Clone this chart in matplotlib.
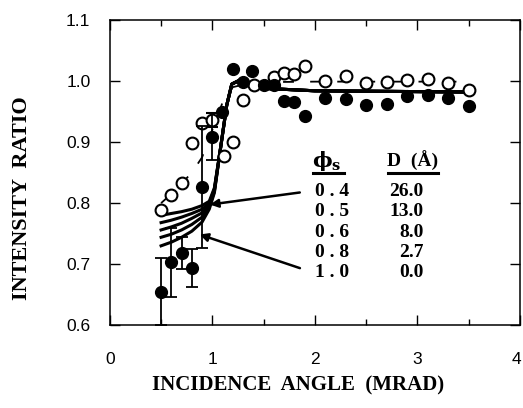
import matplotlib.pyplot as plt
from matplotlib.ticker import MultipleLocator

# filled circles
x_filled = [0.5, 0.6, 0.7, 0.8, 0.9, 1.0, 1.09, 1.2, 1.3, 1.39, 1.5, 1.6, 1.7, 1.8, 1.9,
            2.1, 2.3, 2.5, 2.7, 2.9, 3.1, 3.3, 3.5]
y_filled = [0.655, 0.703, 0.718, 0.693, 0.827, 0.909, 0.95, 1.02, 0.999, 1.017, 0.993, 0.993,
            0.967, 0.965, 0.942, 0.972, 0.970, 0.961, 0.962, 0.975, 0.977, 0.972, 0.959]
err_filled = [0.055, 0.057, 0.026, 0.031, 0.10, 0.039, 0, 0, 0, 0, 0, 0,
              0, 0, 0, 0, 0, 0, 0, 0, 0, 0, 0]

# open circles
x_open = [0.5, 0.6, 0.7, 0.8, 0.9, 1.0, 1.11, 1.2, 1.3, 1.41, 1.6, 1.7, 1.8, 1.9,
          2.1, 2.3, 2.5, 2.7, 2.9, 3.1, 3.3, 3.5]
y_open = [0.788, 0.814, 0.833, 0.899, 0.931, 0.936, 0.877, 0.900, 0.969, 0.993, 1.007, 1.013,
          1.012, 1.024, 1.0, 1.008, 0.997, 0.999, 1.002, 1.003, 0.996, 0.985]
err_open = [0, 0, 0, 0, 0, 0.012, 0, 0, 0, 0, 0,
            0, 0, 0, 0, 0, 0, 0, 0, 0, 0, 0]

# model curves for each phi_s
x_model = [0.5, 0.6, 0.7, 0.8, 0.9, 0.97, 1.02, 1.08, 1.14, 1.19, 1.25, 1.35, 1.5, 2.0, 3.5]
model = {
    "0.4": [0.780, 0.783, 0.786, 0.790, 0.796, 0.803, 0.825, 0.89, 0.96, 0.995, 1.0, 0.994, 0.988, 0.984, 0.982],
    "0.5": [0.768, 0.772, 0.777, 0.783, 0.790, 0.800, 0.823, 0.89, 0.96, 0.995, 1.0, 0.994, 0.988, 0.984, 0.982],
    "0.6": [0.756, 0.761, 0.767, 0.775, 0.784, 0.797, 0.821, 0.89, 0.96, 0.995, 1.0, 0.994, 0.988, 0.984, 0.982],
    "0.8": [0.744, 0.749, 0.756, 0.765, 0.777, 0.794, 0.819, 0.89, 0.96, 0.995, 1.0, 0.994, 0.988, 0.984, 0.982],
    "1.0": [0.730, 0.736, 0.744, 0.754, 0.769, 0.790, 0.817, 0.89, 0.96, 0.995, 1.0, 0.994, 0.988, 0.984, 0.982],
}

# dashed fit through open circles
x_dash = [0.5, 0.6, 0.7, 0.8, 0.9, 1.0, 1.1, 1.2, 1.4, 2.0, 3.5]
y_dash = [0.800, 0.815, 0.832, 0.850, 0.875, 0.920, 0.965, 0.990, 0.998, 0.999, 0.999]

phi_s = ["0.4", "0.5", "0.6", "0.8", "1.0"]
d_vals = ["26.0", "13.0", "8.0", "2.7", "0.0"]
xtick_labels = ["0", "1", "2", "3", "4"]

fig = plt.figure(figsize=(5.23, 4.08), dpi=100)
ax = fig.add_axes([0.210, 0.203, 0.784, 0.748])

for k in phi_s:
    ax.plot(x_model, model[k], color='black', lw=2.2, zorder=2)
ax.plot(x_dash, y_dash, color='black', lw=1.3, dashes=(6, 9), zorder=2)

ax.errorbar(x_filled, y_filled, yerr=err_filled, fmt='o', color='black', ms=8.5,
            capsize=4, elinewidth=1.3, capthick=1.3, zorder=4)
ax.errorbar(x_open, y_open, yerr=err_open, fmt='o', color='black', mfc='white', ms=8.5,
            mew=1.5, capsize=4, elinewidth=1.3, capthick=1.3, zorder=3)

# table of phi_s and D
tf = dict(family='Liberation Serif', weight='bold', fontsize=14)
ax.text(2.12, 0.869, r'$\mathbf{\phi}_\mathbf{s}$', fontsize=15, ha='center', va='center',
        math_fontfamily='dejavuserif')
ax.text(2.95, 0.869, 'D  (\u00c5)', ha='center', va='center', **tf)
ax.plot([1.98, 2.28], [0.849, 0.849], color='black', lw=2.2)
ax.plot([2.71, 3.2], [0.849, 0.849], color='black', lw=2.2)
for i, (p, d) in enumerate(zip(phi_s, d_vals)):
    yy = 0.819 - i * 0.0333
    ax.text(2.005, yy, p.replace('.', ' . '), ha='left', va='center', **tf)
    ax.text(3.06, yy, d, ha='right', va='center', **tf)

# arrows to the curves
ax.annotate('', xy=(0.95, 0.797), xytext=(1.88, 0.818),
            arrowprops=dict(arrowstyle='-|>', lw=1.8, color='black', mutation_scale=12))
ax.annotate('', xy=(0.85, 0.750), xytext=(1.88, 0.692),
            arrowprops=dict(arrowstyle='-|>', lw=1.8, color='black', mutation_scale=12))

ax.set_xlim(0, 4)
ax.set_ylim(0.6, 1.1)
ax.set_xticks([0, 1, 2, 3, 4])
# last label sits on the figure edge, drawn separately so it stays inside
ax.set_xticklabels(xtick_labels[:-1] + [''])
ax.xaxis.set_minor_locator(MultipleLocator(0.5))
ax.set_yticks([0.6, 0.7, 0.8, 0.9, 1.0, 1.1])
ax.set_yticklabels(['0.6', '0.7', '0.8', '0.9', '1.0', '1.1'])
ax.tick_params(which='both', direction='in', top=True, right=True, width=1)
ax.tick_params(which='major', length=7)
ax.tick_params(which='minor', length=4)
ax.tick_params(axis='both', labelsize=12.5)
ax.tick_params(axis='x', pad=19)
ax.tick_params(axis='y', pad=14)
for lab in ax.get_xticklabels() + ax.get_yticklabels():
    lab.set_family('Liberation Sans')
fig.text(521 / 523, 1 - 359 / 408, xtick_labels[-1], family='Liberation Sans', fontsize=12.5,
         ha='right', va='center')
for s in ax.spines.values():
    s.set_linewidth(1.1)

fig.text(298 / 523, 1 - 385 / 408, 'INCIDENCE  ANGLE  (MRAD)', family='Liberation Serif',
         weight='bold', fontsize=15, ha='center', va='center')
fig.text(22 / 523, 1 - 198 / 408, 'INTENSITY  RATIO', family='Liberation Serif',
         weight='bold', fontsize=16, ha='center', va='center', rotation=90)

fig.savefig('out.png', dpi=100)
